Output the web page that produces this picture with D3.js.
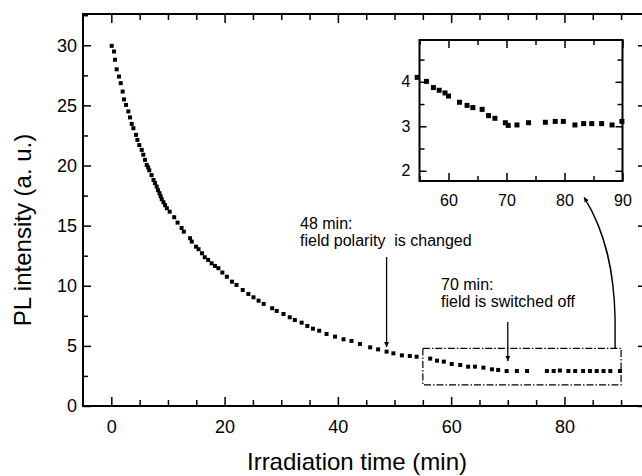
<!DOCTYPE html>
<html>
<head>
<meta charset="utf-8">
<script src="https://cdn.jsdelivr.net/npm/d3@7"></script>
<style>
  body { margin: 0; background: #fff; }
  svg { display: block; font-family: "Liberation Sans", Arial, sans-serif; }
</style>
</head>
<body>
<div id="chart"></div>
<script>
// Main curve: irradiation time (min) and PL intensity (a. u.)
const time = [0.07, 0.48, 0.65, 0.95, 1.36, 1.66, 2.0, 2.24, 2.6, 3.0, 3.3, 3.6, 3.9, 4.36, 4.6, 4.94,
  5.37, 5.65, 5.95, 6.25, 6.5, 6.7, 7.1, 7.45, 7.7, 8.0, 8.25, 8.5, 8.7, 8.9, 9.2, 9.5, 9.8, 10.3, 11.1,
  11.7, 12.4, 12.8, 13.9, 14.2, 14.96, 15.4, 16.0, 16.5, 17.1, 17.7, 18.3, 18.9, 19.6, 20.4, 21.3, 22.1,
  23.2, 24.2, 25.1, 26.0, 26.9, 28.4, 29.2, 30.4, 31.5, 32.4, 33.6, 34.6, 35.6, 36.7, 38.0, 39.5, 41.0,
  42.4, 43.9, 45.7, 47.1, 48.6, 49.8, 51.3, 52.7, 53.9, 56.3, 57.5, 58.7, 60.1, 61.6, 63.0, 64.2, 65.7,
  67.2, 68.3, 69.8, 71.6, 73.4, 76.9, 78.1, 79.2, 80.7, 81.9, 83.3, 84.5, 85.7, 86.9, 88.1, 89.8];
const intensity = [29.95, 29.48, 28.8, 28.0, 27.4, 26.85, 26.15, 25.5, 25.04, 24.5, 24.0, 23.46, 23.1, 22.55, 22.13, 21.7,
  21.3, 20.9, 20.47, 20.05, 19.85, 19.6, 19.2, 18.8, 18.55, 18.25, 17.95, 17.7, 17.45, 17.2, 16.95, 16.7, 16.45, 16.16, 15.7,
  15.25, 14.8, 14.5, 13.95, 13.67, 13.25, 13.04, 12.7, 12.37, 12.15, 11.87, 11.65, 11.46, 11.1, 10.75, 10.34, 10.07,
  9.65, 9.32, 9.04, 8.76, 8.49, 8.13, 7.9, 7.65, 7.38, 7.15, 6.93, 6.66, 6.43, 6.26, 5.99, 5.77, 5.55,
  5.41, 5.16, 4.88, 4.71, 4.52, 4.38, 4.21, 4.16, 4.1, 3.94, 3.77, 3.69, 3.49, 3.41, 3.27, 3.27, 3.19,
  3.05, 3.0, 2.91, 2.91, 2.91, 2.91, 2.91, 2.95, 2.91, 2.91, 2.91, 2.91, 2.91, 2.91, 2.91, 2.91];

// Inset: 55-90 min
const insetTime = [54.6, 56.2, 57.4, 58.4, 59.4, 60.0, 61.9, 63.2, 64.2, 65.8, 66.9, 68.0, 69.8, 70.3,
  71.8, 73.8, 76.7, 78.4, 79.8, 81.8, 83.3, 84.7, 86.4, 88.2, 89.9];
const insetIntensity = [4.1, 4.01, 3.87, 3.81, 3.75, 3.68, 3.54, 3.47, 3.42, 3.38, 3.24, 3.18, 3.08, 3.02,
  3.03, 3.08, 3.09, 3.11, 3.11, 3.03, 3.06, 3.06, 3.06, 3.03, 3.11];

// Ticks
const xMajor = [0, 20, 40, 60, 80];
const xMinor = [5, 10, 15, 25, 30, 35, 45, 50, 55, 65, 70, 75, 85, 90];
const yMajor = [0, 5, 10, 15, 20, 25, 30];
const yMinor = [2.5, 7.5, 12.5, 17.5, 22.5, 27.5, 32.5];
const insetXMajor = [60, 70, 80, 90];
const insetXMinor = [55, 65, 75, 85];
const insetYMajor = [2, 3, 4];
const insetYMinor = [2.5, 3.5, 4.5];

// Zoomed region marked on the main plot
const zoomTime = [55, 90];
const zoomIntensity = [1.75, 4.8];

// Events
const events = [
  { t: 48.6, lines: ["48 min:", "field polarity  is changed"] },
  { t: 70, lines: ["70 min:", "field is switched off"] }
];

const W = 642, H = 476;
const svg = d3.select("#chart").append("svg")
  .attr("width", W).attr("height", H);

const defs = svg.append("defs");
defs.append("marker")
  .attr("id", "head")
  .attr("viewBox", "0 0 10 10")
  .attr("refX", 10).attr("refY", 5)
  .attr("markerWidth", 5).attr("markerHeight", 7)
  .attr("markerUnits", "userSpaceOnUse")
  .attr("orient", "auto")
  .append("path").attr("d", "M0,0 L10,5 L0,10 Z").attr("fill", "#000");

const x = d3.scaleLinear().domain([-5, 94.4]).range([83, 646]);
const y = d3.scaleLinear().domain([0, 32.6]).range([406, 14]);
const fmt = d3.format("d");

function styleAxis(g, size) {
  g.select(".domain").remove();
  g.selectAll("line").attr("stroke", "#000").attr("stroke-width", 1.5);
  g.selectAll("text").attr("fill", "#000").attr("font-size", size)
    .attr("font-family", "Liberation Sans, Arial, sans-serif");
}

// main axes
svg.append("g").attr("transform", "translate(0,406)")
  .call(d3.axisBottom(x).tickValues(xMajor).tickSize(-9).tickSizeOuter(0).tickPadding(14).tickFormat(fmt))
  .call(g => styleAxis(g, 18));
svg.append("g").attr("transform", "translate(0,406)")
  .call(d3.axisBottom(x).tickValues(xMinor).tickSize(-6).tickSizeOuter(0).tickFormat(""))
  .call(g => styleAxis(g, 18));
svg.append("g").attr("transform", "translate(0,14)")
  .call(d3.axisTop(x).tickValues(xMajor).tickSize(-9).tickSizeOuter(0).tickFormat(""))
  .call(g => styleAxis(g, 18));
svg.append("g").attr("transform", "translate(0,14)")
  .call(d3.axisTop(x).tickValues(xMinor).tickSize(-6).tickSizeOuter(0).tickFormat(""))
  .call(g => styleAxis(g, 18));
svg.append("g").attr("transform", "translate(83,0)")
  .call(d3.axisLeft(y).tickValues(yMajor).tickSize(-8).tickSizeOuter(0).tickPadding(6).tickFormat(fmt))
  .call(g => styleAxis(g, 18));
svg.append("g").attr("transform", "translate(83,0)")
  .call(d3.axisLeft(y).tickValues(yMinor).tickSize(-5).tickSizeOuter(0).tickFormat(""))
  .call(g => styleAxis(g, 18));
svg.append("g").attr("transform", "translate(646,0)")
  .call(d3.axisRight(y).tickValues(yMajor).tickSize(-8).tickSizeOuter(0).tickFormat(""))
  .call(g => styleAxis(g, 18));

svg.append("rect")
  .attr("x", 83).attr("y", 14).attr("width", 646 - 83).attr("height", 406 - 14)
  .attr("fill", "none").attr("stroke", "#000").attr("stroke-width", 2);

// axis titles
svg.append("text")
  .attr("x", 357).attr("y", 470)
  .attr("text-anchor", "middle").attr("font-size", 24)
  .text("Irradiation time (min)");
svg.append("text")
  .attr("transform", "translate(31,230) rotate(-90)")
  .attr("text-anchor", "middle").attr("font-size", 24)
  .text("PL intensity (a. u.)");

// main points
const mainData = time.map((t, i) => ({ t, v: intensity[i] }));
svg.append("g").selectAll("rect")
  .data(mainData).join("rect")
  .attr("x", d => x(d.t) - 2).attr("y", d => y(d.v) - 2)
  .attr("width", 4).attr("height", 4).attr("fill", "#000");

// zoom box (dash-dot)
svg.append("rect")
  .attr("x", x(zoomTime[0])).attr("y", y(zoomIntensity[1]))
  .attr("width", x(zoomTime[1]) - x(zoomTime[0]))
  .attr("height", y(zoomIntensity[0]) - y(zoomIntensity[1]))
  .attr("fill", "none").attr("stroke", "#000").attr("stroke-width", 1.2)
  .attr("stroke-dasharray", "7,2,1.5,2");

// event annotations
const evText = [
  { x: 300, y: 229 },
  { x: 441, y: 290 }
];
const evArrow = [
  { y0: 257, y1: 347 },
  { y0: 322, y1: 361 }
];
events.forEach((e, i) => {
  const tx = svg.append("text")
    .attr("x", evText[i].x).attr("y", evText[i].y)
    .attr("font-size", 16).style("white-space", "pre");
  e.lines.forEach((l, j) => {
    tx.append("tspan").attr("x", evText[i].x).attr("dy", j ? 17 : 0).text(l);
  });
  svg.append("line")
    .attr("x1", x(e.t)).attr("x2", x(e.t))
    .attr("y1", evArrow[i].y0).attr("y2", evArrow[i].y1)
    .attr("stroke", "#000").attr("stroke-width", 1.3)
    .attr("marker-end", "url(#head)");
});

// inset
const xi = d3.scaleLinear().domain([55, 90]).range([419.5, 622.5]);
const yi = d3.scaleLinear().domain([1.77, 4.94]).range([181, 40]);

svg.append("rect")
  .attr("x", 419.5).attr("y", 40).attr("width", 622.5 - 419.5).attr("height", 141)
  .attr("fill", "#fff").attr("stroke", "none");

svg.append("g").attr("transform", "translate(0,181)")
  .call(d3.axisBottom(xi).tickValues(insetXMajor).tickSize(-8).tickSizeOuter(0).tickPadding(14).tickFormat(fmt))
  .call(g => styleAxis(g, 16));
svg.append("g").attr("transform", "translate(0,181)")
  .call(d3.axisBottom(xi).tickValues(insetXMinor).tickSize(-5).tickSizeOuter(0).tickFormat(""))
  .call(g => styleAxis(g, 16));
svg.append("g").attr("transform", "translate(0,40)")
  .call(d3.axisTop(xi).tickValues(insetXMajor).tickSize(-8).tickSizeOuter(0).tickFormat(""))
  .call(g => styleAxis(g, 16));
svg.append("g").attr("transform", "translate(0,40)")
  .call(d3.axisTop(xi).tickValues(insetXMinor).tickSize(-5).tickSizeOuter(0).tickFormat(""))
  .call(g => styleAxis(g, 16));
svg.append("g").attr("transform", "translate(419.5,0)")
  .call(d3.axisLeft(yi).tickValues(insetYMajor).tickSize(-7).tickSizeOuter(0).tickPadding(9).tickFormat(fmt))
  .call(g => styleAxis(g, 16));
svg.append("g").attr("transform", "translate(419.5,0)")
  .call(d3.axisLeft(yi).tickValues(insetYMinor).tickSize(-5).tickSizeOuter(0).tickFormat(""))
  .call(g => styleAxis(g, 16));
svg.append("g").attr("transform", "translate(622.5,0)")
  .call(d3.axisRight(yi).tickValues(insetYMajor).tickSize(-7).tickSizeOuter(0).tickFormat(""))
  .call(g => styleAxis(g, 16));
svg.append("g").attr("transform", "translate(622.5,0)")
  .call(d3.axisRight(yi).tickValues(insetYMinor).tickSize(-5).tickSizeOuter(0).tickFormat(""))
  .call(g => styleAxis(g, 16));

svg.append("rect")
  .attr("x", 419.5).attr("y", 40).attr("width", 622.5 - 419.5).attr("height", 141)
  .attr("fill", "none").attr("stroke", "#000").attr("stroke-width", 2);

const insetData = insetTime.map((t, i) => ({ t, v: insetIntensity[i] }));
svg.append("g").selectAll("rect")
  .data(insetData).join("rect")
  .attr("x", d => xi(d.t) - 2.5).attr("y", d => yi(d.v) - 2.5)
  .attr("width", 5).attr("height", 5).attr("fill", "#000");

// curved arrow from zoom box to inset
const bx = x(zoomTime[1]) - 6, by = y(zoomIntensity[1]);
svg.append("path")
  .attr("d", `M${bx},${by} L${bx},${by - 30} C${bx - 1},${by - 76} ${bx - 9},${by - 116} ${bx - 31},${by - 151}`)
  .attr("fill", "none").attr("stroke", "#000").attr("stroke-width", 1.4)
  .attr("marker-end", "url(#head)");
</script>
</body>
</html>
